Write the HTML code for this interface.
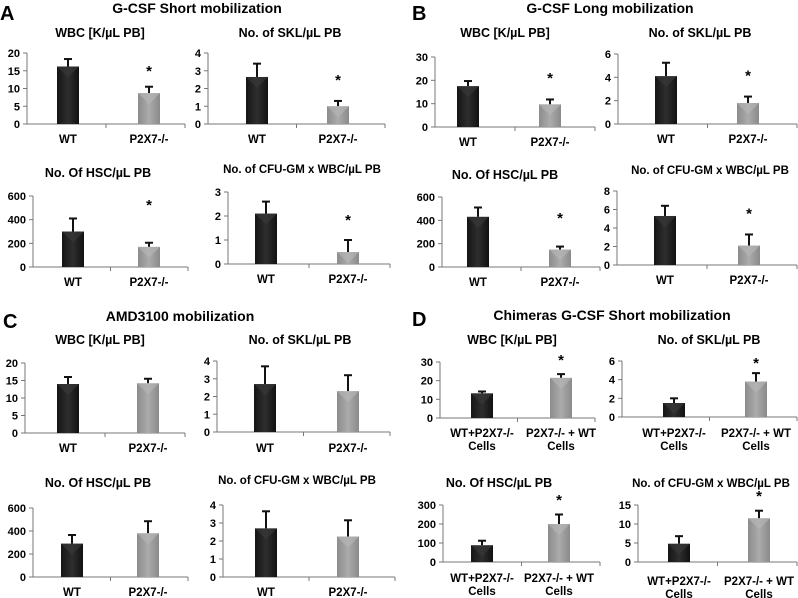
<!DOCTYPE html>
<html><head><meta charset="utf-8">
<style>
html,body{margin:0;padding:0;background:#fff;}
svg{display:block;font-family:"Liberation Sans",sans-serif;font-weight:bold;}
</style></head>
<body>
<svg id="fig" width="798" height="598" viewBox="0 0 798 598">
<defs>
<linearGradient id="gDark" x1="0" x2="1" y1="0" y2="0"><stop offset="0" stop-color="#151515"/><stop offset="0.5" stop-color="#2e2e2e"/><stop offset="1" stop-color="#111"/></linearGradient>
<linearGradient id="gLight" x1="0" x2="1" y1="0" y2="0"><stop offset="0" stop-color="#8c8c8c"/><stop offset="0.5" stop-color="#ababab"/><stop offset="1" stop-color="#8a8a8a"/></linearGradient>
</defs>
<text x="0" y="20" font-size="20">A</text>
<text x="197" y="13" font-size="14" text-anchor="middle">G-CSF Short mobilization</text>
<text x="412" y="20" font-size="20">B</text>
<text x="610" y="13" font-size="14" text-anchor="middle">G-CSF Long mobilization</text>
<text x="3" y="328" font-size="20">C</text>
<text x="180" y="321" font-size="14" text-anchor="middle">AMD3100 mobilization</text>
<text x="412" y="326" font-size="20">D</text>
<text x="612" y="320" font-size="14" text-anchor="middle">Chimeras G-CSF Short mobilization</text>
</svg>
<script>
// ---- data ----
const chartTitles = ["WBC [K/µL PB]","No. of SKL/µL PB","No. Of HSC/µL PB","No. of CFU-GM x WBC/µL PB",
 "WBC [K/µL PB]","No. of SKL/µL PB","No. Of HSC/µL PB","No. of CFU-GM x WBC/µL PB",
 "WBC [K/µL PB]","No. of SKL/µL PB","No. Of HSC/µL PB","No. of CFU-GM x WBC/µL PB",
 "WBC [K/µL PB]","No. of SKL/µL PB","No. Of HSC/µL PB","No. of CFU-GM x WBC/µL PB"];
const categoriesSimple = ["WT","P2X7-/-"];
const categoriesChimera = [["WT+P2X7-/-","Cells"],["P2X7-/- + WT","Cells"]];
const wtValues = [16.2,2.65,300,2.1, 17.5,4.1,430,5.3, 14,2.7,290,2.7, 13.2,1.5,88,4.8];
const wtErrTops = [18.3,3.4,410,2.6, 19.7,5.25,510,6.4, 16,3.7,365,3.65, 14.2,2.0,112,6.8];
const koValues = [8.7,1.0,170,0.5, 9.7,1.8,150,2.1, 14.2,2.3,380,2.25, 21.5,3.8,200,11.5];
const koErrTops = [10.5,1.3,205,1.0, 11.8,2.35,175,3.3, 15.5,3.2,485,3.15, 23.5,4.7,250,13.5];
const yMaxes = [20,4,600,3, 30,6,600,8, 20,4,600,4, 30,6,300,15];
const ySteps = [5,1,200,1, 10,2,200,2, 5,1,200,1, 10,2,100,5];
const starValues = [15.8,2.65,550,1.96, 22.3,4.4,446,5.9, null,null,null,null, 32.7,6.1,342,18.2];
// ---- layout (pixels) ----
const layout = [
 [27,53,124,185,68,149,139,33,100],[208,53,124,385,257,338,139,33,290],
 [33,196,267,188,73,149,282,173,98],[228,192,264,390,266,348,279,169,302],
 [435,57,127,595,468,550,142,33,505],[618,54,124,797,666,748,139,33,700],
 [442,197,267,600,478,560,282,175,505],[617,191,265,797,665,749,280,170,710],
 [25,363,433,185,68,148,448,340,100],[217,361,432,390,265,348,448,340,300],
 [33,508,577,188,72,148,592,483,98],[223,505,577,395,266,348,592,480,297],
 [440,362,418,595,482,561,433,340,512],[622,361,417,797,674,756,433,340,709],
 [443,505,562,600,482,559,578,483,499],[638,505,562,797,679,759,581,483,711]];
const NS="http://www.w3.org/2000/svg";
const fig=document.getElementById('fig');
function mk(tag,attrs,parent,txt){const e=document.createElementNS(NS,tag);for(const k in attrs)e.setAttribute(k,attrs[k]);if(txt!==undefined)e.textContent=txt;parent.appendChild(e);return e;}
const panelNames=['a','b','c','d'];
for(let i=0;i<16;i++){
 const [ax,top,zero,end,wtC,koC,labY,titleY,titleX]=layout[i];
 const g=mk('g',{},fig);
 
 
 const yScale=v=>zero-(v/yMaxes[i])*(zero-top);
 const fs=chartTitles[i].length>20?11.5:12.5;
 const t=mk('text',{x:titleX,y:titleY+4,'font-size':fs,'text-anchor':'middle'},g,chartTitles[i]);
 
 
 const ya=mk('line',{x1:ax,y1:top,x2:ax,y2:zero,stroke:'#777','stroke-width':1},g);
 
 
 for(let v=0;v<=yMaxes[i]+1e-9;v+=ySteps[i]){
  const y=yScale(v);
  mk('line',{x1:ax-4,y1:y,x2:ax,y2:y,stroke:'#777'},g);
  const tl=mk('text',{x:ax-7,y:y+4,'font-size':11,'text-anchor':'end'},g,String(v));
  
  
 }
 const xa=mk('line',{x1:ax,y1:zero,x2:end,y2:zero,stroke:'#777','stroke-width':1},g);
 
 
 const mid=(ax+end)/2;
 [mid,end].forEach(x=>mk('line',{x1:x,y1:zero,x2:x,y2:zero+4,stroke:'#777'},g));
 const vals=[wtValues[i],koValues[i]],errs=[wtErrTops[i],koErrTops[i]],cs=[wtC,koC];
 for(let b=0;b<2;b++){
  const yv=yScale(vals[b]),ye=yScale(errs[b]),w=22,x=cs[b]-w/2;
  const el=mk('line',{x1:cs[b],y1:yv,x2:cs[b],y2:ye,stroke:'#111','stroke-width':2},g);
  
  
  mk('line',{x1:cs[b]-4,y1:ye,x2:cs[b]+4,y2:ye,stroke:'#111','stroke-width':2},g);
  const r=mk('rect',{x:x,y:yv,width:w,height:zero-yv,fill:b?'url(#gLight)':'url(#gDark)'},g);
  
  
  mk('polygon',{points:`${x},${yv} ${x+w},${yv} ${cs[b]},${Math.min(zero,yv+w/2)}`,fill:b?'#b8b8b8':'#3a3a3a',opacity:0.6},g);
  if(i>=12){
   const lines=categoriesChimera[b];
   lines.forEach((s,k)=>{const xl=mk('text',{x:cs[b],y:labY+4+k*13,'font-size':11.5,'text-anchor':'middle'},g,s);
    
    });
  } else {
   const xl=mk('text',{x:cs[b],y:labY+4,'font-size':11.5,'text-anchor':'middle'},g,categoriesSimple[b]);
   
   
  }
 }
 if(starValues[i]!==null){
  const s=mk('text',{x:koC,y:yScale(starValues[i])+8,'font-size':15,'text-anchor':'middle'},g,'*');
  
  
 }
}
</script>
</body></html>
